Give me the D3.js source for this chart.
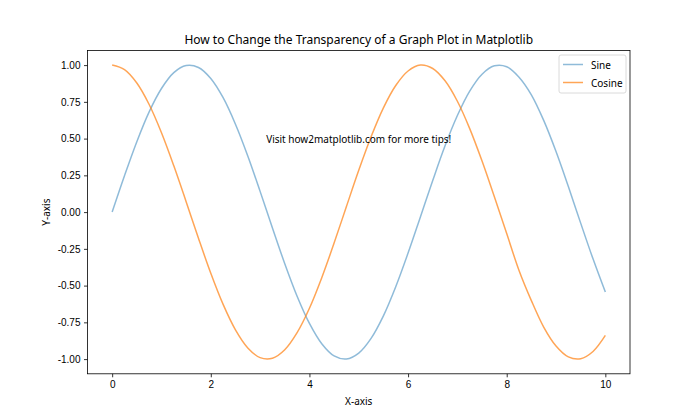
<!DOCTYPE html>
<html>
<head>
<meta charset="utf-8">
<script src="https://cdn.jsdelivr.net/npm/d3@7"></script>
<style>
  html, body { margin: 0; padding: 0; background: #fff; }
  svg { display: block; font-family: "Noto Sans", "Open Sans", "DejaVu Sans", sans-serif; }
</style>
</head>
<body>
<svg id="chart" width="700" height="420"></svg>
<script>
const xValues = [0, 0.25, 0.5, 0.75, 1, 1.25, 1.5, 1.75, 2, 2.25, 2.5, 2.75, 3, 3.25, 3.5, 3.75, 4, 4.25, 4.5, 4.75, 5, 5.25, 5.5, 5.75, 6, 6.25, 6.5, 6.75, 7, 7.25, 7.5, 7.75, 8, 8.25, 8.5, 8.75, 9, 9.25, 9.5, 9.75, 10];
const sineValues = [0.000, 0.247, 0.479, 0.682, 0.841, 0.949, 0.997, 0.984, 0.909, 0.778, 0.598, 0.382, 0.141, -0.108, -0.351, -0.572, -0.757, -0.895, -0.978, -0.999, -0.959, -0.859, -0.706, -0.508, -0.279, -0.033, 0.215, 0.451, 0.657, 0.823, 0.938, 0.995, 0.989, 0.918, 0.798, 0.624, 0.412, 0.174, -0.075, -0.318, -0.544];
const cosineValues = [1.000, 0.969, 0.878, 0.732, 0.540, 0.315, 0.071, -0.178, -0.416, -0.628, -0.801, -0.924, -0.990, -0.994, -0.936, -0.820, -0.654, -0.446, -0.211, 0.038, 0.284, 0.512, 0.709, 0.861, 0.960, 1.000, 0.977, 0.893, 0.754, 0.568, 0.347, 0.104, -0.146, -0.397, -0.602, -0.782, -0.911, -0.985, -0.997, -0.948, -0.839];
const xTicks = [0, 2, 4, 6, 8, 10];
const yTicks = [-1.00, -0.75, -0.50, -0.25, 0.00, 0.25, 0.50, 0.75, 1.00];
const seriesNames = ["Sine", "Cosine"];

(function () {
const svg = d3.select("#chart");
const mLeft = 87.5, mRight = 630, mTop = 50.4, mBottom = 373.8;

const x = d3.scaleLinear().domain([-0.5, 10.5]).range([mLeft, mRight]);
const y = d3.scaleLinear().domain([-1.1, 1.1]).range([mBottom, mTop]);

const series = [
  { name: seriesNames[0], values: sineValues, color: "#1f77b4", opacity: 0.5 },
  { name: seriesNames[1], values: cosineValues, color: "#ff7f0e", opacity: 0.7 }
];

const line = d3.line()
  .x((d, i) => x(xValues[i]))
  .y(d => y(d))
  .curve(d3.curveCatmullRom.alpha(0.5));

const plot = svg.append("g");
series.forEach(s => {
  plot.append("path")
    .datum(s.values)
    .attr("d", line)
    .attr("fill", "none")
    .attr("stroke", s.color)
    .attr("stroke-opacity", s.opacity)
    .attr("stroke-width", 1.5);
});

const xAxis = d3.axisBottom(x).tickValues(xTicks).tickFormat(d3.format("d")).tickSize(3.5).tickPadding(3.5);
const yAxis = d3.axisLeft(y).tickValues(yTicks).tickFormat(d3.format(".2f")).tickSize(3.5).tickPadding(3.5);

const gx = svg.append("g").attr("transform", `translate(0,${mBottom})`).call(xAxis);
const gy = svg.append("g").attr("transform", `translate(${mLeft},0)`).call(yAxis);
[gx, gy].forEach(g => {
  g.select(".domain").remove();
  g.selectAll("line").attr("stroke", "#000").attr("stroke-width", 0.8);
  g.selectAll("text").attr("font-size", 10).attr("fill", "#000").attr("font-family", null);
});
gy.selectAll("text").text(d => d3.format(".2f")(d).replace("\u2212", "-"));

svg.append("rect")
  .attr("x", mLeft).attr("y", mTop)
  .attr("width", mRight - mLeft).attr("height", mBottom - mTop)
  .attr("fill", "none").attr("stroke", "#000").attr("stroke-width", 0.8);

svg.append("text").attr("x", (mLeft + mRight) / 2).attr("y", mTop - 6)
  .attr("text-anchor", "middle").attr("font-size", 12).text("How to Change the Transparency of a Graph Plot in Matplotlib");
svg.append("text").attr("x", (mLeft + mRight) / 2).attr("y", 405)
  .attr("text-anchor", "middle").attr("font-size", 10).text("X-axis");
svg.append("text").attr("transform", `translate(50,${(mTop + mBottom) / 2}) rotate(-90)`)
  .attr("text-anchor", "middle").attr("font-size", 10).text("Y-axis");

svg.append("text").attr("x", x(5)).attr("y", y(0.5))
  .attr("text-anchor", "middle").attr("dominant-baseline", "central")
  .attr("font-size", 10).text("Visit how2matplotlib.com for more tips!");

const lg = svg.append("g");
lg.append("rect").attr("x", 559).attr("y", 55).attr("width", 67).attr("height", 38)
  .attr("rx", 2).attr("fill", "#fff").attr("fill-opacity", 0.8)
  .attr("stroke", "#d0d0d0").attr("stroke-width", 0.8);
series.forEach((s, i) => {
  const cy = 64.5 + i * 18;
  lg.append("line").attr("x1", 563).attr("x2", 583).attr("y1", cy).attr("y2", cy)
    .attr("stroke", s.color).attr("stroke-opacity", s.opacity).attr("stroke-width", 1.5);
  lg.append("text").attr("x", 591).attr("y", cy).attr("dominant-baseline", "central")
    .attr("font-size", 10).text(s.name);
});
})();
</script>
</body>
</html>
